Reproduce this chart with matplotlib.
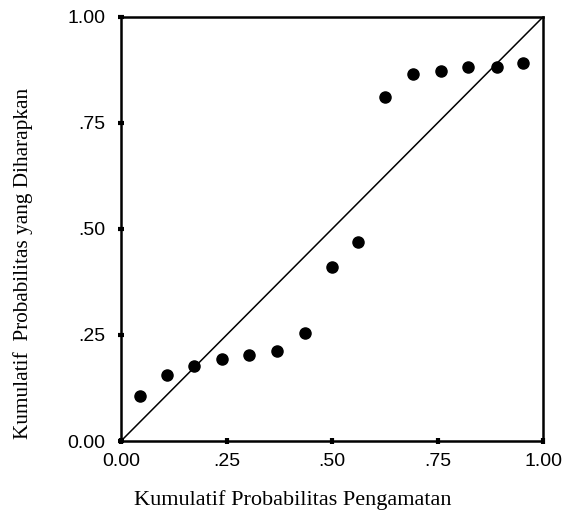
import matplotlib

matplotlib.use("Agg")
import matplotlib.pyplot as plt  # noqa: E402

obs_cum = [0.045, 0.108, 0.174, 0.240, 0.304, 0.370, 0.436, 0.500,
           0.562, 0.626, 0.693, 0.758, 0.823, 0.890, 0.952]
exp_cum = [0.106, 0.156, 0.177, 0.193, 0.203, 0.213, 0.254, 0.410,
           0.469, 0.812, 0.865, 0.873, 0.883, 0.883, 0.892]
tick_vals = [0.0, 0.25, 0.5, 0.75, 1.0]
tick_labels = ["0.00", ".25", ".50", ".75", "1.00"]

fig = plt.figure(figsize=(5.66, 5.14), dpi=100)
ax = fig.add_axes([0.2138, 0.142, 0.7456, 0.825])

ax.plot([0, 1], [0, 1], color="black", lw=1.1)
ax.plot(obs_cum, exp_cum, "o", color="black", ms=8, mec="black")

ax.set_xlim(0, 1)
ax.set_ylim(0, 1)
ax.set_xticks(tick_vals, tick_labels)
ax.set_yticks(tick_vals, tick_labels)
for lab in ax.get_xticklabels() + ax.get_yticklabels():
    lab.set_family("Liberation Sans")
    lab.set_fontsize(14)
ax.tick_params(direction="inout", length=5, width=3, color="black")
ax.tick_params(axis="x", pad=6)
ax.tick_params(axis="y", pad=9)
for sp in ax.spines.values():
    sp.set_linewidth(1.8)

# axis titles placed by hand, as on the scan
fig.text(0.5177, 0.027, "Kumulatif Probabilitas Pengamatan",
         family="Liberation Serif", fontsize=16, ha="center", va="center")
fig.text(0.0406, 0.488, "Kumulatif  Probabilitas yang Diharapkan",
         family="Liberation Serif", fontsize=15.3, ha="center", va="center",
         rotation=90)

fig.savefig("out.png", dpi=100, facecolor="white")
